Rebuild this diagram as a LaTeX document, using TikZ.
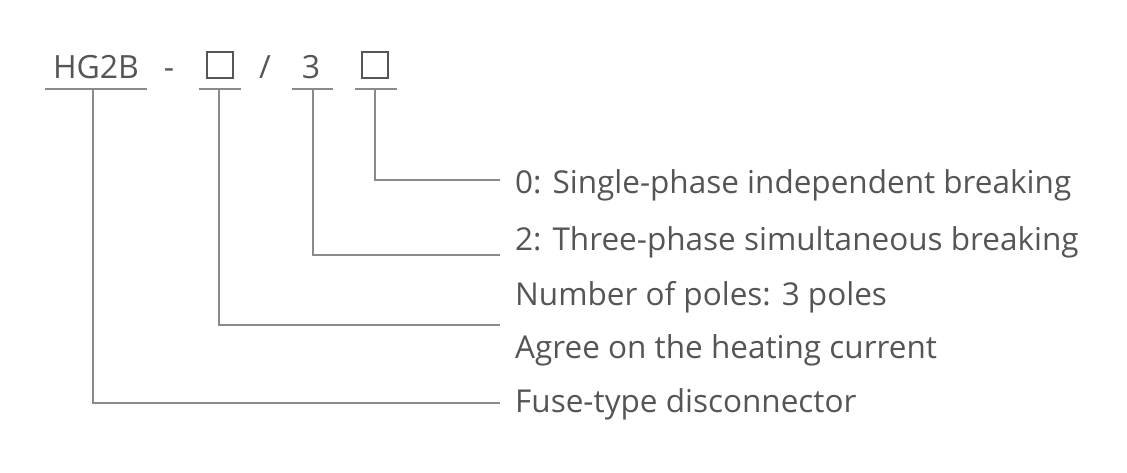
\documentclass[tikz,border=0pt]{standalone}
\usepackage{fontspec}
\setmainfont{Open Sans}
\usetikzlibrary{positioning}
\definecolor{txtgray}{HTML}{555555}
\definecolor{lngray}{HTML}{8A8A8A}
\tikzset{
  code/.style={text=txtgray, font=\fontsize{32}{38}\selectfont, inner sep=0pt, anchor=base},
  desc/.style={text=txtgray, font=\fontsize{31.5}{36}\selectfont, inner sep=0pt, anchor=west},
  link/.style={lngray, line width=1.4pt},
  slot/.style={draw=txtgray, line width=1.2pt, minimum width=26pt, minimum height=26pt, inner sep=0pt}
}
\begin{document}
\begin{tikzpicture}[x=1pt,y=-1pt]
\useasboundingbox (0,0) rectangle (1127,472);
\begin{scope}
    % Code line
    \node[code] (hg) at (96,78) {HG2B};
    \node[code] (dash) at (169,78) {-};
    \node[slot] (boxa) at (220,65) {};
    \node[code] (slash) at (265,78) {/};
    \node[code] (three) at (311,78) {3};
    \node[slot] (boxb) at (375,65) {};

    % Underlines
    \draw[link] (45,89) -- (147,89);
    \draw[link] (199,89) -- (241,89);
    \draw[link] (292,89) -- (333,89);
    \draw[link] (355,89) -- (397,89);

    % Descriptions
    \node[desc] (single) at (515,185) {0: Single-phase independent breaking};
    \node[desc] (simul) at (515,242) {2: Three-phase simultaneous breaking};
    \node[desc] (poles) at (515,297) {Number of poles: 3 poles};
    \node[desc] (heat) at (515,350) {Agree on the heating current};
    \node[desc] (fuse) at (515,404) {Fuse-type disconnector};

    % Leaders
    \draw[link] (375,89) |- (500,180);
    \draw[link] (313,89) |- (500,255);
    \draw[link] (219,89) |- (500,325);
    \draw[link] (93,89) |- (500,403);
\end{scope}
\end{tikzpicture}
\end{document}
